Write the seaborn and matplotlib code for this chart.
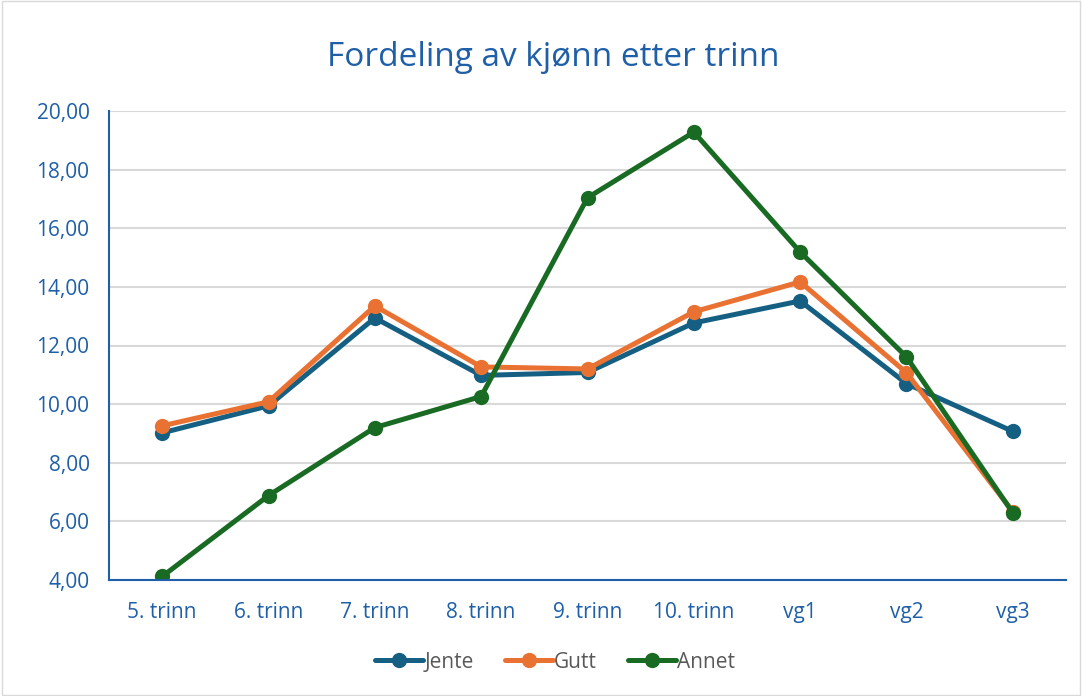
import seaborn as sns
import matplotlib.pyplot as plt
import pandas as pd

trinn = ['5. trinn', '6. trinn', '7. trinn', '8. trinn', '9. trinn',
         '10. trinn', 'vg1', 'vg2', 'vg3']
jente = [9.02, 9.94, 12.94, 10.98, 11.08, 12.77, 13.52, 10.70, 9.07]
gutt = [9.26, 10.08, 13.35, 11.27, 11.20, 13.15, 14.17, 11.07, 6.33]
annet = [4.12, 6.88, 9.20, 10.26, 17.04, 19.28, 15.19, 11.61, 6.29]

series = {'Jente': jente, 'Gutt': gutt, 'Annet': annet}
colors = {'Jente': '#156082', 'Gutt': '#E97132', 'Annet': '#196B24'}

df = pd.concat(
    [pd.DataFrame({'trinn': trinn, 'verdi': v, 'kjonn': k}) for k, v in series.items()],
    ignore_index=True,
)

sns.set_style('white')
plt.rcParams['font.family'] = ['Open Sans', 'DejaVu Sans']

blue = '#1F5FA8'

fig = plt.figure(figsize=(10.82, 6.96), dpi=100)
ax = fig.add_axes([109 / 1082, 1 - 580 / 696, (1066 - 109) / 1082, (580 - 111) / 696])

sns.lineplot(data=df, x='trinn', y='verdi', hue='kjonn', palette=colors,
             sort=False, marker='o', markersize=11, markeredgewidth=0,
             linewidth=3.6, ax=ax)

ax.set_xlim(-0.5, len(trinn) - 0.5)
ax.set_ylim(4, 20)
ax.set_yticks(range(4, 21, 2))
ax.set_yticklabels([f'{v:.2f}'.replace('.', ',') for v in range(4, 21, 2)])
ax.grid(axis='y', color='#D9D9D9', linewidth=1.5)
ax.set_axisbelow(True)
ax.set_xlabel('')
ax.set_ylabel('')

for side in ['top', 'right']:
    ax.spines[side].set_visible(False)
for side in ['left', 'bottom']:
    ax.spines[side].set_color(blue)
    ax.spines[side].set_linewidth(1.5)

ax.tick_params(axis='both', length=0, labelsize=15, colors=blue)
ax.tick_params(axis='x', pad=16)
ax.tick_params(axis='y', pad=14)

fig.text(553 / 1082, 1 - 57 / 696, 'Fordeling av kjønn etter trinn',
         ha='center', va='center', fontsize=24, color=blue)

ax.legend_.remove()
handles, labels = ax.get_legend_handles_labels()
fig.legend(handles, labels, loc='center', bbox_to_anchor=(555 / 1082, 1 - 662 / 696),
           ncol=3, frameon=False, fontsize=15, labelcolor='#595959',
           handlelength=2.3, handletextpad=0.05, columnspacing=1.5)

border = plt.Rectangle((0.002, 0.002), 0.996, 0.996, transform=fig.transFigure,
                       fill=False, edgecolor='#D9D9D9', linewidth=1)
fig.patches.append(border)

fig.savefig('out.png', dpi=100)
